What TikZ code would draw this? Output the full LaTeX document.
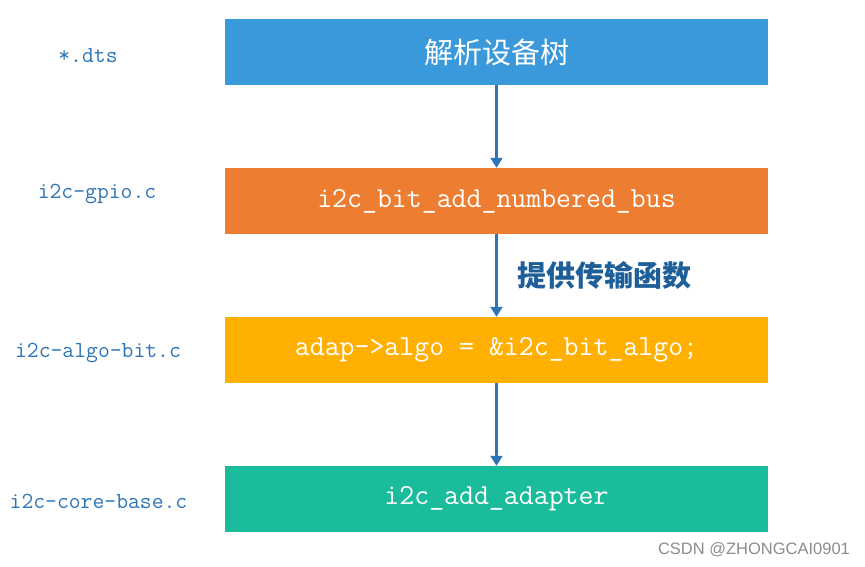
\documentclass[tikz,border=0pt]{standalone}
\usepackage{fontspec}
\newfontfamily\cjk{Noto Sans CJK SC}
\newfontfamily\wm{Liberation Sans}
\usetikzlibrary{arrows.meta}
\definecolor{cblue}{HTML}{3A99DA}
\definecolor{corange}{HTML}{ED7D31}
\definecolor{cyellow}{HTML}{FFB000}
\definecolor{cgreen}{HTML}{1ABC9C}
\definecolor{carrow}{HTML}{2E75B6}
\definecolor{clabel}{HTML}{2E75B6}
\definecolor{ctitle}{HTML}{1F5F99}
\tikzset{
  box/.style={minimum width=543pt, minimum height=66pt, inner sep=0pt, text=white, font=\fontsize{29}{31}\selectfont\ttfamily},
  filelab/.style={text=clabel, font=\fontsize{23}{25}\selectfont\ttfamily, inner sep=0pt},
  conn/.style={draw=carrow, line width=2.2pt, -{Triangle[length=10pt,width=12pt]}},
}
\begin{document}
\begin{tikzpicture}[x=1pt,y=-1pt]
\useasboundingbox (0,0) rectangle (865,567);
\node[box, fill=cblue] (b1) at (496.5,52) {\cjk 解析设备树};
\node[box, fill=corange] (b2) at (496.5,201) {\raisebox{-2pt}{i2c\_bit\_add\_numbered\_bus}};
\node[box, fill=cyellow] (b3) at (496.5,350) {\raisebox{-2pt}{adap->algo = \&i2c\_bit\_algo;}};
\node[box, fill=cgreen] (b4) at (496.5,499) {\raisebox{-2pt}{i2c\_add\_adapter}};
\draw[conn] (b1.south) -- (b2.north);
\draw[conn] (b2.south) -- (b3.north);
\draw[conn] (b3.south) -- (b4.north);
\node[text=ctitle, font=\fontsize{29}{31}\selectfont\cjk\bfseries, inner sep=0pt] (t) at (604,275) {提供传输函数};
\node[filelab] (l1) at (88,56) {*.dts};
\node[filelab] (l2) at (97,194) {i2c-gpio.c};
\node[filelab] (l3) at (98,353) {i2c-algo-bit.c};
\node[filelab] (l4) at (98.5,501) {i2c-core-base.c};
\node[text=black!45, font=\fontsize{16.5}{18}\selectfont\wm, inner sep=0pt] (w) at (754,550) {CSDN @ZHONGCAI0901};
\end{tikzpicture}
\end{document}
